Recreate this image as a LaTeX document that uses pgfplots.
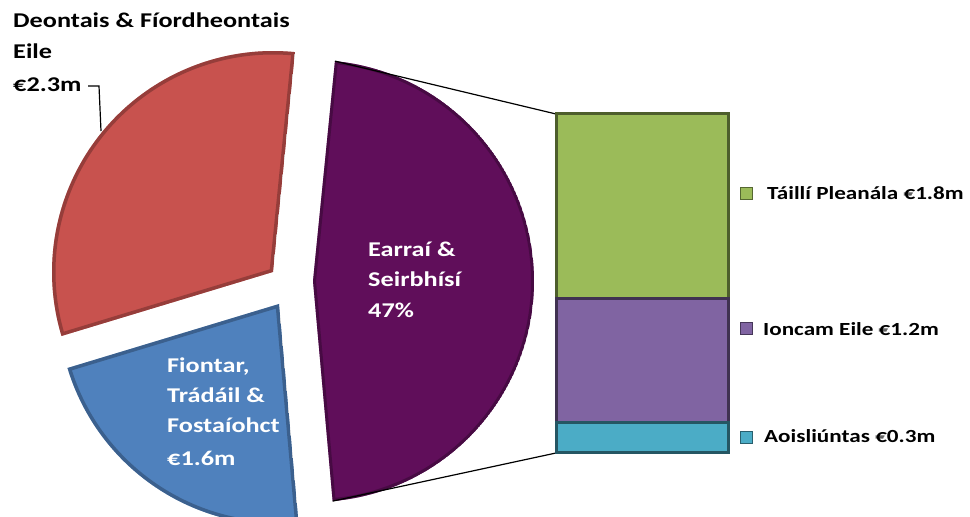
\documentclass[border=0pt]{standalone}
\usepackage{pgfplots}
\pgfplotsset{compat=1.18}
\usepackage{fontspec}
\setmainfont{Carlito}[FakeStretch=1.25]
\definecolor{redc}{RGB}{200,82,78}
\definecolor{bluec}{RGB}{79,129,189}
\definecolor{purpc}{RGB}{96,14,90}
\definecolor{greenc}{RGB}{155,187,89}
\definecolor{violc}{RGB}{128,100,162}
\definecolor{cyanc}{RGB}{75,172,198}
\newcommand\lbl{\fontsize{21}{25}\selectfont\bfseries}
\newcommand\leg{\fontsize{18.5}{22}\selectfont\bfseries}
\begin{document}
\begin{tikzpicture}
% pie shares (percent): Earrai & Seirbhisi, Deontais, Fiontar
\def\pS{47}
\def\pD{31.26}
\def\pF{21.74}
\pgfmathsetmacro\aStart{84.3}
\pgfmathsetmacro\aPEnd{\aStart-\pS*3.6}
\pgfmathsetmacro\aREnd{\aStart+\pD*3.6}
\pgfmathsetmacro\aBEnd{\aREnd+\pF*3.6}
\begin{axis}[name=main, at={(0,0)}, anchor=south west,
  width=970pt, height=517pt, scale only axis,
  xmin=0, xmax=970, ymin=0, ymax=517, hide axis]
\addplot[draw=none, forget plot] coordinates {(0,0) (970,517)};
% red slice
\begin{scope}
\clip (axis cs:273,245) -- ++(\aStart:221pt)
  arc[start angle=\aStart, end angle=\aREnd, radius=221pt] -- cycle;
\fill[redc] (axis cs:273,245) -- ++(\aStart:221pt)
  arc[start angle=\aStart, end angle=\aREnd, radius=221pt] -- cycle;
\draw[redc!45!black, line width=7pt, opacity=0.45] (axis cs:273,245) -- ++(\aStart:221pt)
  arc[start angle=\aStart, end angle=\aREnd, radius=221pt] -- cycle;
\end{scope}
% blue slice
\begin{scope}
\clip (axis cs:279,213) -- ++(\aREnd:221pt)
  arc[start angle=\aREnd, end angle=\aBEnd, radius=221pt] -- cycle;
\fill[bluec] (axis cs:279,213) -- ++(\aREnd:221pt)
  arc[start angle=\aREnd, end angle=\aBEnd, radius=221pt] -- cycle;
\draw[bluec!45!black, line width=7pt, opacity=0.45] (axis cs:279,213) -- ++(\aREnd:221pt)
  arc[start angle=\aREnd, end angle=\aBEnd, radius=221pt] -- cycle;
\end{scope}
% purple slice
\begin{scope}
\clip (axis cs:313,236) -- ++(\aPEnd:221pt)
  arc[start angle=\aPEnd, end angle=\aStart, radius=221pt] -- cycle;
\fill[purpc] (axis cs:313,236) -- ++(\aPEnd:221pt)
  arc[start angle=\aPEnd, end angle=\aStart, radius=221pt] -- cycle;
\draw[purpc!50!black, line width=6pt, opacity=0.5] (axis cs:313,236) -- ++(\aPEnd:221pt)
  arc[start angle=\aPEnd, end angle=\aStart, radius=221pt] -- cycle;
\end{scope}
% connector lines
\draw[black, line width=1.2pt] (axis cs:313,236) ++(\aStart:221pt) -- (axis cs:556,403);
\draw[black, line width=1.2pt] (axis cs:313,236) ++(\aPEnd:221pt) -- (axis cs:556,64);
% leader line
\draw[black, line width=1.2pt] (axis cs:88,431) -- (axis cs:99,431) -- (axis cs:101,386);
% labels
\node[anchor=base west, inner sep=0, font=\lbl] at (axis cs:13,489) {Deontais \& Fíordheontais};
\node[anchor=base west, inner sep=0, font=\lbl] at (axis cs:13,458) {Eile};
\node[anchor=base west, inner sep=0, font=\lbl] at (axis cs:13,425) {€2.3m};
\node[anchor=base west, inner sep=0, font=\lbl, text=white] at (axis cs:368,260) {Earraí \&};
\node[anchor=base west, inner sep=0, font=\lbl, text=white] at (axis cs:368,230) {Seirbhísí};
\node[anchor=base west, inner sep=0, font=\lbl, text=white] at (axis cs:368,199) {47\%};
\node[anchor=base west, inner sep=0, font=\lbl, text=white] at (axis cs:167,144) {Fiontar,};
\node[anchor=base west, inner sep=0, font=\lbl, text=white] at (axis cs:167,114) {Trádáil \&};
\node[anchor=base west, inner sep=0, font=\lbl, text=white] at (axis cs:167,84) {Fostaíohct};
\node[anchor=base west, inner sep=0, font=\lbl, text=white] at (axis cs:167,51) {€1.6m};
% legend
\node[fill=greenc, draw=greenc!55!black, line width=1pt, minimum size=12pt, inner sep=0] at (axis cs:746.5,323) {};
\node[fill=violc, draw=violc!55!black, line width=1pt, minimum size=12pt, inner sep=0] at (axis cs:746.5,188) {};
\node[fill=cyanc, draw=cyanc!55!black, line width=1pt, minimum size=12pt, inner sep=0] at (axis cs:746.5,79) {};
\node[anchor=base west, inner sep=0, font=\leg] at (axis cs:767,317) {Táillí Pleanála €1.8m};
\node[anchor=base west, inner sep=0, font=\leg] at (axis cs:763,181) {Ioncam Eile €1.2m};
\node[anchor=base west, inner sep=0, font=\leg] at (axis cs:764,74) {Aoisliúntas €0.3m};
\end{axis}
\begin{axis}[at={(556pt,64pt)}, anchor=south west,
  width=172pt, height=339pt, scale only axis,
  xmin=-0.5, xmax=0.5, ymin=0, ymax=3.3, hide axis,
  ybar stacked, bar width=172pt, clip=false]
\addplot[fill=cyanc, draw=cyanc!50!black, line width=3pt] coordinates {(0,0.3)};
\addplot[fill=violc, draw=violc!50!black, line width=3pt] coordinates {(0,1.2)};
\addplot[fill=greenc, draw=greenc!50!black, line width=3pt] coordinates {(0,1.8)};
\end{axis}
\end{tikzpicture}
\end{document}
